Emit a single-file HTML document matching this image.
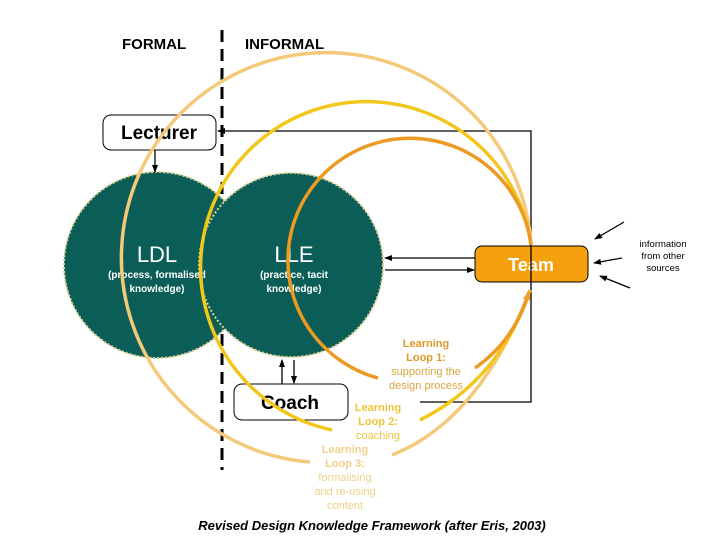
<!DOCTYPE html>
<html><head><meta charset="utf-8"><style>
html,body{margin:0;padding:0;background:#fff}
svg{display:block}
text{font-family:"Liberation Sans",sans-serif}
</style></head><body>
<svg width="720" height="540" viewBox="0 0 720 540" xmlns="http://www.w3.org/2000/svg">
<defs>
<marker id="ah" markerWidth="8" markerHeight="8" refX="7" refY="4" orient="auto" markerUnits="userSpaceOnUse"><path d="M0,1 L8,4 L0,7 z" fill="#000"/></marker>
<marker id="ao" markerWidth="10" markerHeight="10" refX="8" refY="5" orient="auto" markerUnits="userSpaceOnUse"><path d="M0,1 L10,5 L0,9 z" fill="#f0a030"/></marker>
</defs>
<text x="122" y="49" font-size="15" font-weight="bold">FORMAL</text>
<text x="245" y="49" font-size="15" font-weight="bold">INFORMAL</text>
<line x1="222" y1="30" x2="222" y2="470" stroke="#000" stroke-width="3" stroke-dasharray="12,7"/>
<!-- circles -->
<circle cx="157" cy="265" r="93" fill="#0b5e57" stroke="#d9d08a" stroke-width="2" stroke-dasharray="2,2"/>
<circle cx="291" cy="265" r="92" fill="#0b5e57" stroke="#d9d08a" stroke-width="2" stroke-dasharray="2,2"/>
<path d="M 200 265 A 93 93 0 0 1 250 265" fill="none"/>
<text x="157" y="262" font-size="22" fill="#fff" text-anchor="middle">LDL</text>
<text x="157" y="278" font-size="10" font-weight="bold" fill="#fff" text-anchor="middle">(process, formalised</text>
<text x="157" y="292" font-size="10" font-weight="bold" fill="#fff" text-anchor="middle">knowledge)</text>
<text x="294" y="262" font-size="22" fill="#fff" text-anchor="middle">LLE</text>
<text x="294" y="278" font-size="10" font-weight="bold" fill="#fff" text-anchor="middle">(practice, tacit</text>
<text x="294" y="292" font-size="10" font-weight="bold" fill="#fff" text-anchor="middle">knowledge)</text>
<!-- boxes -->
<rect x="103" y="115" width="113" height="35" rx="8" fill="#fff" stroke="#000" stroke-width="1"/>
<text x="159" y="139" font-size="19" font-weight="bold" text-anchor="middle">Lecturer</text>
<rect x="234" y="384" width="114" height="36" rx="8" fill="#fff" stroke="#000" stroke-width="1"/>
<text x="290" y="409" font-size="19" font-weight="bold" text-anchor="middle">Coach</text>
<rect x="475" y="246" width="113" height="36" rx="7" fill="#f5a00f" stroke="#000" stroke-width="1"/>
<text x="531" y="271" font-size="18" font-weight="bold" fill="#fff" text-anchor="middle">Team</text>
<!-- connectors -->
<polyline points="420,402 531,402 531,131 218,131" fill="none" stroke="#000" stroke-width="1.3" marker-end="url(#ah)"/>
<line x1="155" y1="150" x2="155" y2="172" stroke="#000" stroke-width="1.3" marker-end="url(#ah)"/>
<line x1="282" y1="384" x2="282" y2="360" stroke="#000" stroke-width="1.3" marker-end="url(#ah)"/>
<line x1="294" y1="360" x2="294" y2="383" stroke="#000" stroke-width="1.3" marker-end="url(#ah)"/>
<line x1="475" y1="258" x2="385" y2="258" stroke="#000" stroke-width="1.3" marker-end="url(#ah)"/>
<line x1="385" y1="270" x2="474" y2="270" stroke="#000" stroke-width="1.3" marker-end="url(#ah)"/>
<line x1="624" y1="222" x2="595" y2="239" stroke="#000" stroke-width="1.3" marker-end="url(#ah)"/>
<line x1="622" y1="258" x2="594" y2="263" stroke="#000" stroke-width="1.3" marker-end="url(#ah)"/>
<line x1="630" y1="288" x2="600" y2="276" stroke="#000" stroke-width="1.3" marker-end="url(#ah)"/>
<!-- loops -->
<path d="M 310 462 A 205 205 0 1 1 531 245" fill="none" stroke="#f5c97a" stroke-width="3.5"/>
<path d="M 392 455 Q 480 420 530 290" fill="none" stroke="#f5c97a" stroke-width="3.5"/>
<path d="M 332 430 A 166 166 0 1 1 531 245" fill="none" stroke="#f2c61a" stroke-width="3.5"/>
<path d="M 420 420 Q 500 380 530 290" fill="none" stroke="#f2c61a" stroke-width="3.5"/>
<path d="M 378 378 A 122 122 0 1 1 531 245" fill="none" stroke="#ec9a22" stroke-width="3.5"/>
<path d="M 475 368 Q 515 340 529 292" fill="none" stroke="#ec9a22" stroke-width="3.5" marker-end="url(#ao)"/>
<!-- loop labels -->
<g font-size="11" text-anchor="middle">
<text x="426" y="347" fill="#e09a2a" font-weight="bold">Learning</text>
<text x="426" y="361" fill="#e09a2a" font-weight="bold">Loop 1:</text>
<text x="426" y="375" fill="#d9a540">supporting the</text>
<text x="426" y="389" fill="#d9a540">design process</text>
<text x="378" y="411" fill="#ecc63a" font-weight="bold">Learning</text>
<text x="378" y="425" fill="#ecc63a" font-weight="bold">Loop 2:</text>
<text x="378" y="439" fill="#ecc63a">coaching</text>
<text x="345" y="453" fill="#f0d088" font-weight="bold">Learning</text>
<text x="345" y="467" fill="#f0d088" font-weight="bold">Loop 3:</text>
<text x="345" y="481" fill="#f0d088">formalising</text>
<text x="345" y="495" fill="#f0d088">and re-using</text>
<text x="345" y="509" fill="#f0d088">content</text>
</g>
<g font-size="9.5" text-anchor="middle">
<text x="663" y="247">information</text>
<text x="663" y="259">from other</text>
<text x="663" y="271">sources</text>
</g>
<text x="372" y="530" font-size="13" font-style="italic" font-weight="bold" text-anchor="middle">Revised Design Knowledge Framework (after Eris, 2003)</text>
</svg>
</body></html>
